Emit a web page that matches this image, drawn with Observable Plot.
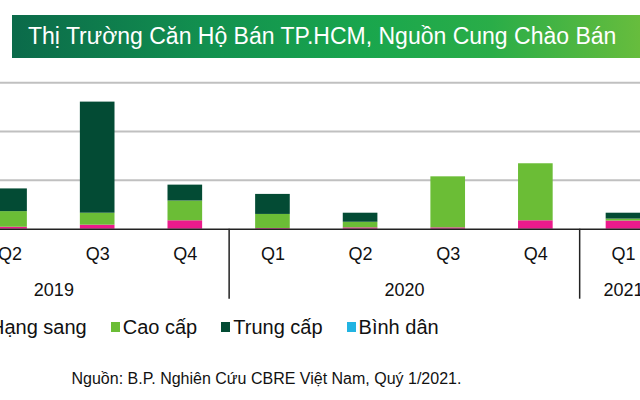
<!DOCTYPE html>
<html><head><meta charset="utf-8">
<script src="https://cdn.jsdelivr.net/npm/d3@7"></script>
<script src="https://cdn.jsdelivr.net/npm/@observablehq/plot@0.6"></script>
<style>
body{margin:0;background:#fff;font-family:"Liberation Sans",Arial,sans-serif;}
#wrap{position:relative;width:640px;height:400px;overflow:hidden;background:#fff;}
#chart{position:absolute;left:0;top:0;}
#banner{position:absolute;left:11.5px;top:15px;width:640px;height:43px;
  background:linear-gradient(to right,#0b6a4a 0%,#12904f 30%,#19a64d 55%,#2aad48 75%,#6cbe3c 100%);z-index:2;}
#banner span{position:absolute;left:16.5px;top:0;line-height:43px;color:#fff;font-size:23px;white-space:nowrap;}
#legend{position:absolute;left:-22px;top:315px;display:flex;align-items:center;height:24px;font-size:20px;color:#111;white-space:nowrap;}
#legend .item{display:flex;align-items:center;margin-right:24px;}
#legend .sw{width:9px;height:10px;margin-right:3px;}
#source{position:absolute;left:71.5px;top:370px;font-size:16px;color:#111;white-space:nowrap;}
</style></head>
<body><div id="wrap">
<div id="chart"></div>
<div id="banner"><span>Thị Trường Căn Hộ Bán TP.HCM, Nguồn Cung Chào Bán</span></div>
<div id="legend"></div>
<div id="source">Nguồn: B.P. Nghiên Cứu CBRE Việt Nam, Quý 1/2021.</div>
</div>
<script>
const quarters = ["Q1","Q2","Q3","Q4","Q1","Q2","Q3","Q4","Q1"];
const years = ["2019","2019","2019","2019","2020","2020","2020","2020","2021"];
const series = ["Hạng sang","Cao cấp","Trung cấp","Bình dân"];
const colors = ["#ec1b8c","#6bbd36","#034b34","#22b4e2"];
// Q1 2019 lies outside the visible crop: values unknown
const hangSang = [null, 80, 165, 345, 30, 55, 55, 345, 335];
const caoCap   = [null, 640, 490, 810, 575, 230, 2090, 2335, 80];
const trungCap = [null, 930, 4550, 650, 820, 370, 0, 0, 240];
const binhDan  = [null, 0, 0, 0, 0, 0, 0, 0, 0];
const gridTicks = [2000, 4000, 6000];

const valueArrays = [hangSang, caoCap, trungCap, binhDan];
const rects = [];
quarters.forEach((q, i) => {
  let base = 0;
  valueArrays.forEach((arr, s) => {
    const v = arr[i];
    if (v == null) return;
    if (v > 0) rects.push({i, series: series[s], y1: base, y2: base + v});
    base += v;
  });
});
const qData = quarters.map((q, i) => ({i, q, year: years[i]}));
const yearGroups = d3.groups(qData, d => d.year).map(([year, arr]) => ({
  year, mid: d3.mean(arr, d => d.i), first: d3.min(arr, d => d.i)
}));
const dividers = yearGroups.slice(1).map(g => g.first - 0.5);

const plot = Plot.plot({
  width: 640, height: 310, margin: 0,
  x: {type: "linear", domain: [-0.5, 8.5], range: [-121.9, 666.8], axis: null},
  y: {domain: [0, 6000], range: [228.7, 82.2], axis: null},
  color: {domain: series, range: colors},
  style: {fontFamily: "Liberation Sans, Arial, sans-serif", background: "transparent", color: "#111"},
  marks: [
    Plot.ruleY(gridTicks, {stroke: "#c0c0c0", strokeWidth: 2}),
    Plot.rect(rects, {x1: d => d.i - 0.5, x2: d => d.i + 0.5, y1: "y1", y2: "y2", fill: "series", insetLeft: 26.5, insetRight: 26.5}),
    Plot.ruleY([0], {stroke: "#222", strokeWidth: 1.5}),
    Plot.ruleX(dividers, {x: d => d, y1: 0, y2: 0, insetBottom: -70, stroke: "#222", strokeWidth: 1.5}),
    Plot.text(qData, {x: "i", y: 0, dy: 25, text: "q", fontSize: 18, fill: "#111"}),
    Plot.text(yearGroups, {x: "mid", y: 0, dy: 61, text: "year", fontSize: 18, fill: "#111"})
  ]
});
document.getElementById("chart").appendChild(plot);

const legend = document.getElementById("legend");
series.forEach((s, k) => {
  const item = document.createElement("div");
  item.className = "item";
  const sw = document.createElement("div");
  sw.className = "sw";
  sw.style.background = colors[k];
  const t = document.createElement("span");
  t.textContent = s;
  item.appendChild(sw); item.appendChild(t);
  legend.appendChild(item);
});
</script>
</body></html>
